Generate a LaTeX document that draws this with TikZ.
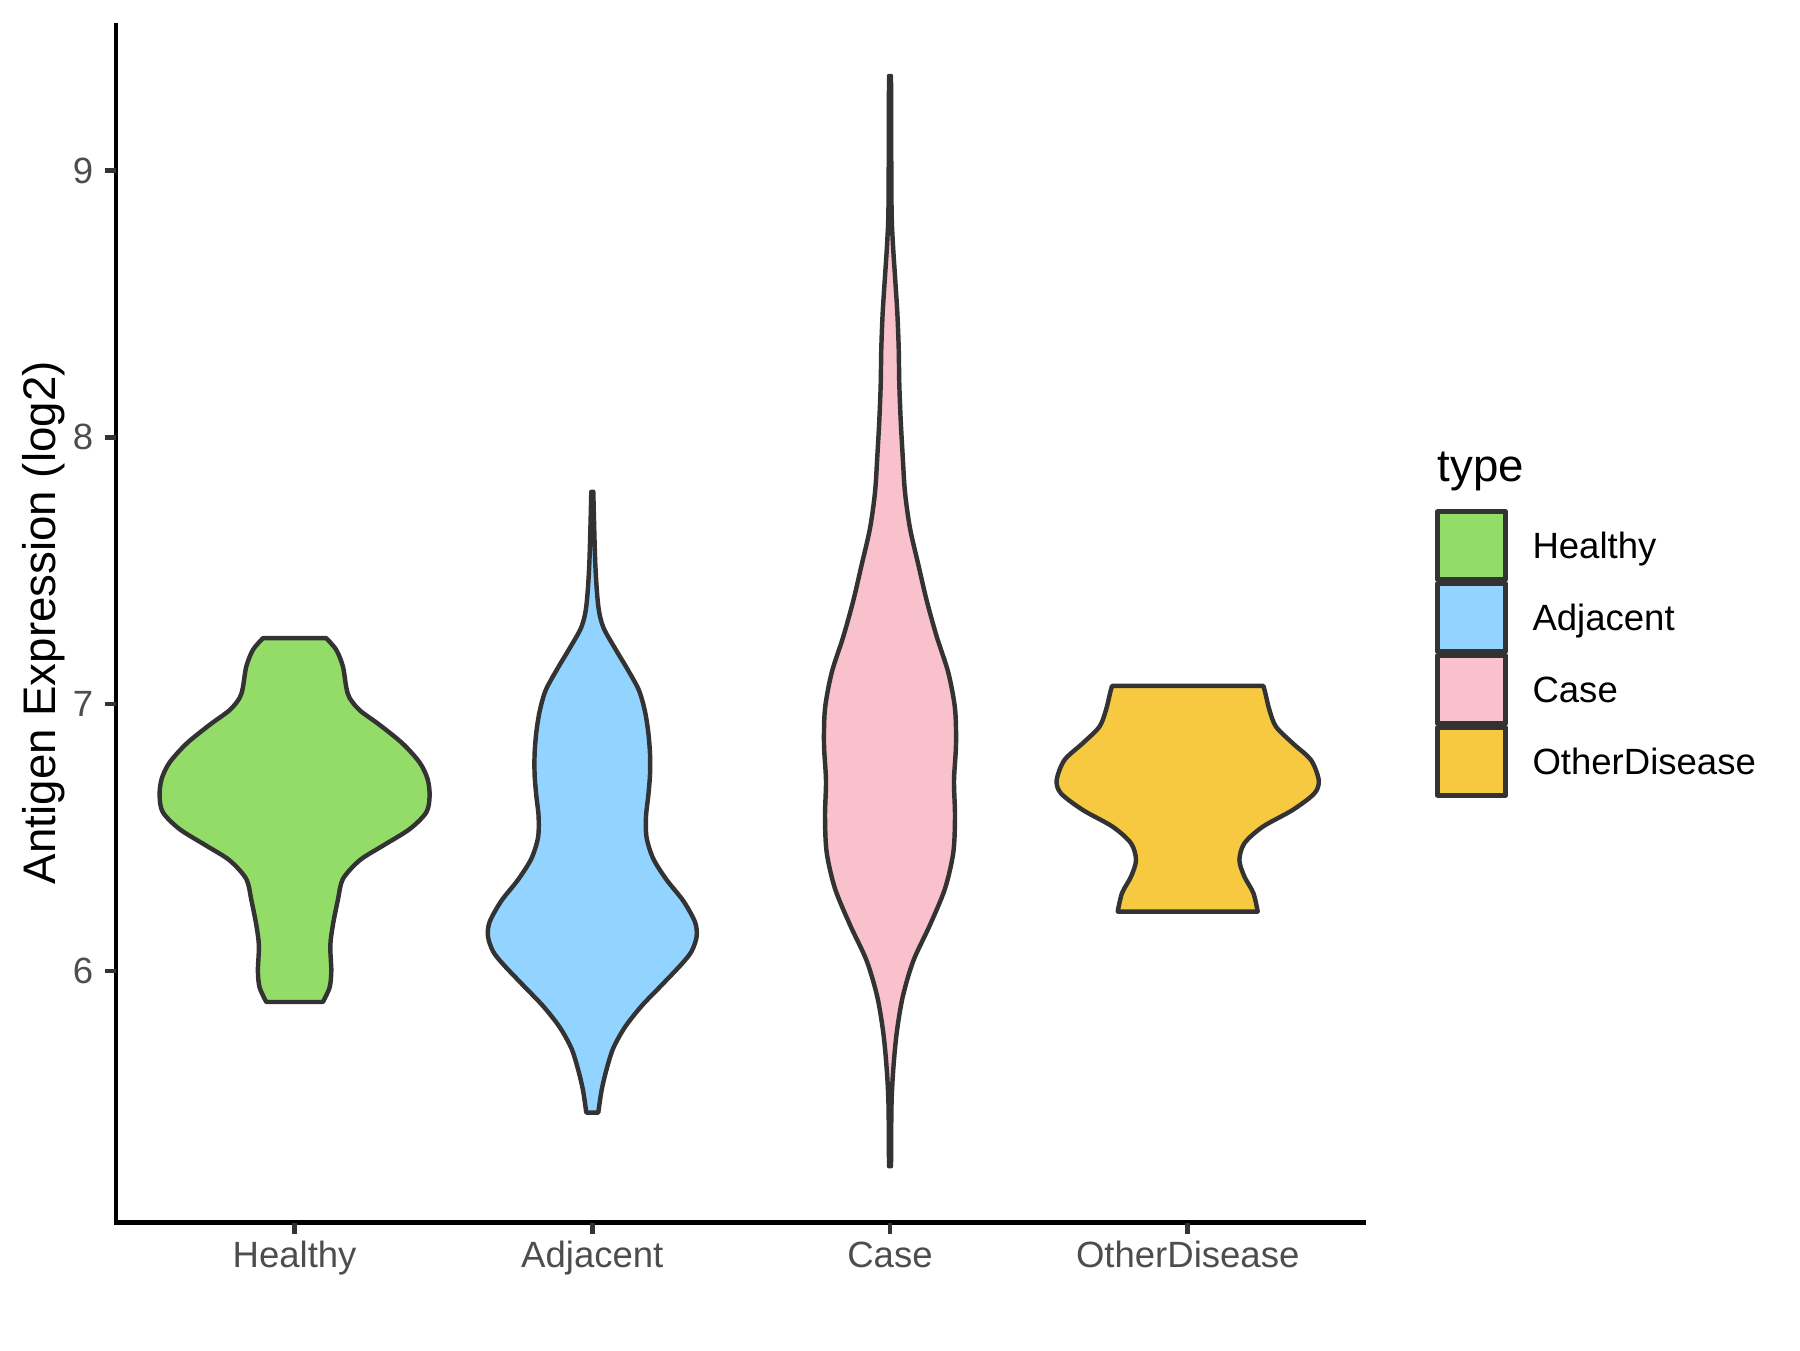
\documentclass[tikz,border=0pt]{standalone}
\usepackage{fontspec}
\setmainfont{Liberation Sans}
\definecolor{healthy}{HTML}{94DC68}
\definecolor{adjacent}{HTML}{92D3FF}
\definecolor{case}{HTML}{F8C1CC}
\definecolor{otherdis}{HTML}{F6C940}
\definecolor{grigio20}{HTML}{333333}
\definecolor{grigio30}{HTML}{4D4D4D}

\newcommand\violin[3]{%
  \gdef\rside{}\gdef\lside{}%
  \foreach \val/\wid in {#2}{\xdef\rside{\rside(#1+\wid,\val)}\xdef\lside{(#1-\wid,\val)\lside}}%
  \edef\tmp{\noexpand\draw[vio,fill=#3] plot[smooth] coordinates {\rside} -- plot[smooth] coordinates {\lside} -- cycle;}%
  \tmp}

\begin{document}
\begin{tikzpicture}[x=0.2409pt,y=0.2409pt,
  vio/.style={draw=grigio20,line width=1.07pt,line join=round},
  tick/.style={draw=grigio20,line width=1.07pt},
  ticklab/.style={text=grigio30,font=\fontsize{8.8}{10}\selectfont,inner sep=0pt},
  leglab/.style={font=\fontsize{8.8}{10}\selectfont,inner sep=0pt,anchor=base west},
  titolo/.style={font=\fontsize{11}{13}\selectfont,inner sep=0pt}]

\useasboundingbox (0,0) rectangle (1800,1350);

\begin{scope}[y=64.25pt,yshift=-294.14pt]
\violin{294.6}{5.883/28.3, 5.9375/35, 6.0/36.7, 6.094/35.7, 6.172/38.3, 6.266/43.3,
  6.344/48.3, 6.414/65, 6.469/88.3, 6.531/115, 6.594/131.7, 6.656/135, 6.719/133,
  6.781/125, 6.852/108, 6.922/85, 6.977/65, 7.023/55, 7.0625/51.7, 7.141/48.3,
  7.203/41.7, 7.247/31.7}{healthy}
\violin{592.3}{5.468/6, 5.552/9.3, 5.631/14.3, 5.710/21, 5.789/32.7, 5.868/49.3,
  5.946/69.3, 6.025/89.3, 6.073/99.3, 6.128/104.3, 6.183/102.7, 6.262/91, 6.341/74.3,
  6.420/61, 6.499/54.3, 6.578/53.7, 6.657/56, 6.736/57.7, 6.814/57.7, 6.893/56,
  6.972/52.7, 7.051/46.7, 7.130/35.3, 7.209/22.7, 7.288/11, 7.367/6, 7.525/3, 7.796/1}{adjacent}
\violin{890}{5.267/1, 5.497/1.5, 5.632/3.3, 5.767/6.7, 5.902/12.7, 6.037/23.3, 6.172/40,
  6.308/55, 6.443/63.3, 6.578/65, 6.713/64, 6.848/66, 6.983/65, 7.118/58.3, 7.253/46.7,
  7.388/36.7, 7.523/28.3, 7.659/20, 7.794/15, 7.929/12.7, 8.064/10.7, 8.199/9.3,
  8.334/8.7, 8.469/7.3, 8.604/5, 8.739/2.7, 8.875/1.5, 9.355/1}{case}
\violin{1187.7}{6.222/70, 6.291/65.7, 6.353/56.7, 6.415/51.7, 6.478/56.7, 6.540/75,
  6.603/105, 6.665/126.7, 6.715/131, 6.790/123.3, 6.853/105, 6.915/88.3, 6.978/81.7,
  7.040/77.7, 7.068/75.7}{otherdis}

\draw[line width=1.07pt] (116,9.555) -- (116,5.056) -- (1366,5.056);

\foreach \t in {6,...,9}
  \draw[tick] (116,\t) -- ++(-11.5,0) node[ticklab,anchor=east,xshift=-2.2pt] (y\t) {\t};

\foreach \cx/\nome [count=\i] in {294.6/Healthy,592.3/Adjacent,890/Case,1187.7/OtherDisease}{
  \draw[tick] (\cx,5.056) -- ++(0,-0.043);
  \node[ticklab,anchor=base] (x\i) at (\cx,4.886) {\nome};
}
\end{scope}

\node[titolo,rotate=90,anchor=base] (ytitle) at (55,727.4) {Antigen Expression (log2)};

\node[titolo,anchor=base west] (legtitle) at (1436.7,868.3) {type};
\foreach \nome/\col [count=\k from 0] in {Healthy/healthy,Adjacent/adjacent,Case/case,OtherDisease/otherdis}{
  \draw[vio,fill=\col] (1437.5,838.3-72*\k) rectangle ++(68.2,-67.6);
  \node[leglab] (leg\k) at (1531.7,791.7-72*\k) {\nome};
}
\end{tikzpicture}
\end{document}
